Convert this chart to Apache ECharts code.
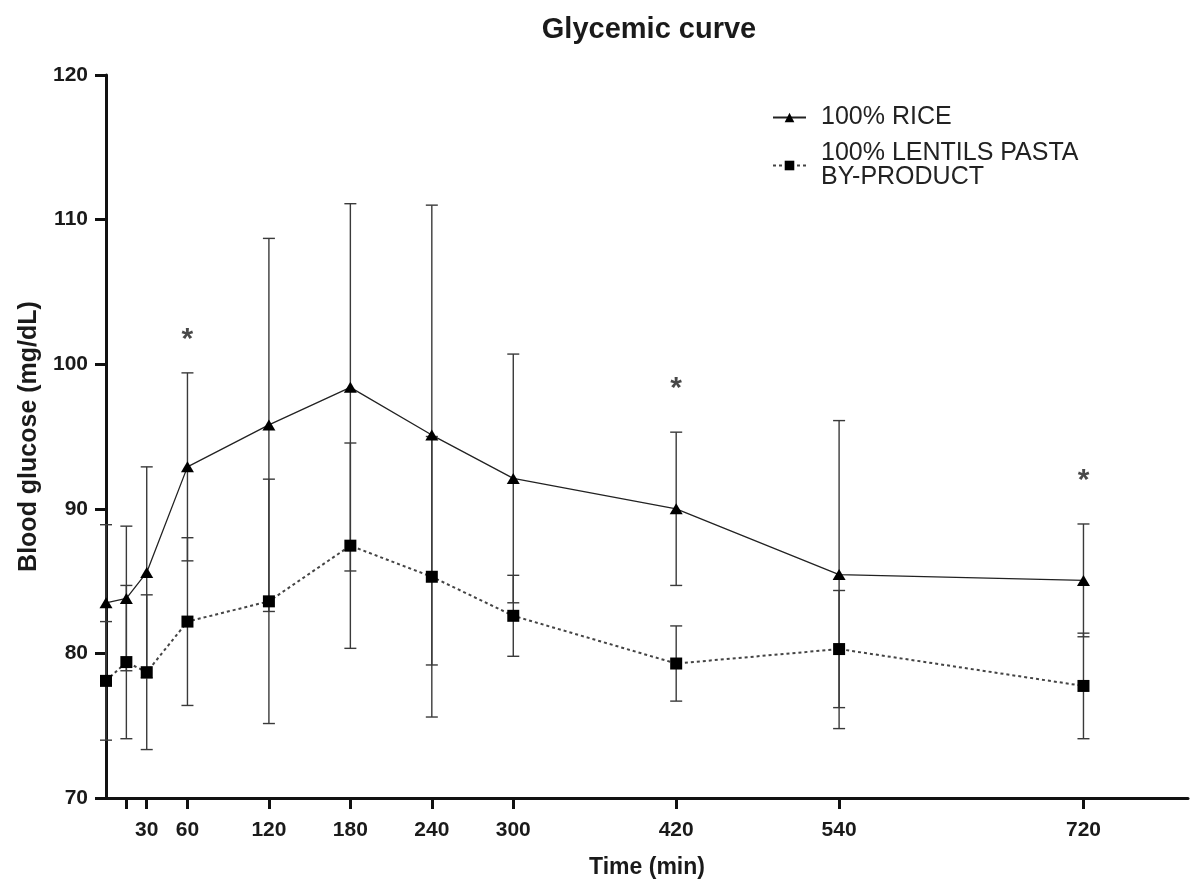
<!DOCTYPE html>
<html>
<head>
<meta charset="utf-8">
<script src="https://cdn.jsdelivr.net/npm/echarts@6/dist/echarts.min.js"></script>
<style>
html,body{margin:0;padding:0;background:#fff;}
#chart{width:1190px;height:884px;}
</style>
</head>
<body>
<div id="chart"></div>
<script>
// ---- data ----
const times = [0, 15, 30, 60, 120, 180, 240, 300, 420, 540, 720];
const rice = [83.5, 83.8, 85.6, 92.9, 95.8, 98.4, 95.1, 92.1, 90.0, 85.45, 85.05];
const riceErr = [5.4, 5.0, 7.3, 6.5, 12.9, 12.7, 15.9, 8.6, 5.3, 10.65, 3.9];
const lentil = [78.1, 79.4, 78.7, 82.2, 83.6, 87.45, 85.3, 82.6, 79.3, 80.3, 77.75];
const lentilErr = [4.1, 5.3, 5.35, 5.8, 8.45, 7.1, 9.7, 2.8, 2.6, 4.05, 3.65];
const starTimes = [60, 420, 720];
const starValues = [102.0, 98.6, 92.2];
const xTickValues = [15, 30, 60, 120, 180, 240, 300, 420, 540, 720];
const xLabelValues = [30, 60, 120, 180, 240, 300, 420, 540, 720];
const riceName = '100% RICE';
const lentilName = '100% LENTILS PASTA\nBY-PRODUCT';

const FONT = '"Liberation Sans", Arial, sans-serif';

function errData(vals, errs) {
  return times.map((t, i) => [t, vals[i], errs[i]]);
}
function renderErr(params, api) {
  const x = api.value(0), v = api.value(1), e = api.value(2);
  const top = api.coord([x, v + e]);
  const bot = api.coord([x, v - e]);
  const hw = 6;
  const st = { stroke: '#3a3a3a', lineWidth: 1.4 };
  return {
    type: 'group',
    children: [
      { type: 'line', shape: { x1: top[0], y1: top[1], x2: bot[0], y2: bot[1] }, style: st },
      { type: 'line', shape: { x1: top[0] - hw, y1: top[1], x2: top[0] + hw, y2: top[1] }, style: st },
      { type: 'line', shape: { x1: bot[0] - hw, y1: bot[1], x2: bot[0] + hw, y2: bot[1] }, style: st }
    ]
  };
}

const chart = echarts.init(document.getElementById('chart'));
chart.setOption({
  animation: false,
  backgroundColor: '#fff',
  title: {
    text: 'Glycemic curve',
    left: 644, top: 10, textAlign: 'center',
    textStyle: { fontFamily: FONT, fontWeight: 'bold', fontSize: 29, color: '#1a1a1a' }
  },
  legend: {
    orient: 'vertical',
    left: 767, top: 100,
    itemWidth: 33, itemHeight: 12, itemGap: 11,
    data: [riceName, lentilName],
    textStyle: { fontFamily: FONT, fontSize: 25, color: '#222', lineHeight: 24, padding: [0, 0, 0, 10] }
  },
  grid: { left: 106, right: 2, top: 75, bottom: 85 },
  xAxis: {
    type: 'value', min: 0, max: 797,
    name: 'Time (min)', nameLocation: 'middle', nameGap: 58,
    nameTextStyle: { fontFamily: FONT, fontWeight: 'bold', fontSize: 23, color: '#1a1a1a' },
    axisLine: { lineStyle: { color: '#111', width: 3 } },
    axisTick: { show: true, length: 11, lineStyle: { color: '#111', width: 3 }, customValues: xTickValues },
    axisLabel: { customValues: xLabelValues, fontFamily: FONT, fontWeight: 'bold', fontSize: 21, color: '#1a1a1a', margin: 22 },
    splitLine: { show: false }
  },
  yAxis: {
    type: 'value', min: 70, max: 120, interval: 10,
    name: 'Blood glucose (mg/dL)', nameLocation: 'middle', nameGap: 64,
    nameTextStyle: { fontFamily: FONT, fontWeight: 'bold', fontSize: 25, color: '#1a1a1a' },
    axisLine: { show: true, lineStyle: { color: '#111', width: 3 } },
    axisTick: { show: true, length: 11, lineStyle: { color: '#111', width: 3 } },
    axisLabel: { fontFamily: FONT, fontWeight: 'bold', fontSize: 21, color: '#1a1a1a', margin: 18 },
    splitLine: { show: false }
  },
  series: [
    {
      type: 'custom', name: 'riceErr', renderItem: renderErr,
      data: errData(rice, riceErr), encode: { x: 0, y: 1 }, z: 1, silent: true
    },
    {
      type: 'custom', name: 'lentilErr', renderItem: renderErr,
      data: errData(lentil, lentilErr), encode: { x: 0, y: 1 }, z: 1, silent: true
    },
    {
      type: 'line', name: riceName,
      data: times.map((t, i) => [t, rice[i]]),
      symbol: 'triangle', symbolSize: [13, 11],
      itemStyle: { color: '#000' },
      lineStyle: { color: '#222', width: 1.3, type: 'solid' },
      z: 3
    },
    {
      type: 'line', name: lentilName,
      data: times.map((t, i) => [t, lentil[i]]),
      symbol: 'rect', symbolSize: 12,
      itemStyle: { color: '#000' },
      lineStyle: { color: '#444', width: 2, type: [3, 3] },
      z: 3
    },
    {
      type: 'scatter', name: 'stars',
      data: starTimes.map((t, i) => [t, starValues[i]]),
      symbolSize: 0,
      label: {
        show: true, position: 'inside', formatter: '*',
        fontFamily: FONT, fontWeight: 'bold', fontSize: 30, color: '#1a1a1a', offset: [0, 4]
      },
      silent: true, z: 4
    }
  ]
});
</script>
</body>
</html>
